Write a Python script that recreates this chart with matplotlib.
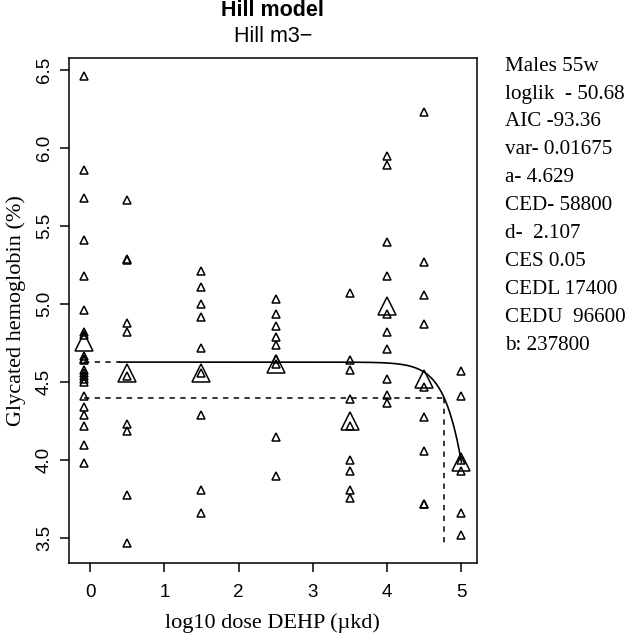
import matplotlib
matplotlib.use("Agg")
import matplotlib.pyplot as plt
import numpy as np

# log10 dose of each dose group (control plotted at -0.08)
doses = [-0.08, 0.5, 1.5, 2.5, 3.5, 4.0, 4.5, 5.0]

obs = [
    [6.46, 5.86, 5.68, 5.41, 5.18, 4.96, 4.82, 4.80, 4.67, 4.65, 4.64,
     4.58, 4.56, 4.54, 4.52, 4.50, 4.41, 4.34, 4.29, 4.22, 4.10, 3.98],
    [5.67, 5.29, 5.28, 4.88, 4.82, 4.54, 4.23, 4.19, 3.78, 3.47],
    [5.21, 5.11, 5.00, 4.92, 4.72, 4.56, 4.29, 3.81, 3.66],
    [5.03, 4.94, 4.86, 4.79, 4.74, 4.65, 4.62, 4.15, 3.90],
    [5.07, 4.64, 4.58, 4.39, 4.22, 4.00, 3.93, 3.81, 3.76],
    [5.95, 5.89, 5.40, 5.18, 4.94, 4.82, 4.71, 4.52, 4.42, 4.37],
    [6.23, 5.27, 5.06, 4.87, 4.47, 4.28, 4.06, 3.72, 3.72],
    [4.57, 4.41, 4.00, 3.93, 3.66, 3.52],
]

# group means (large triangles)
means = [4.76, 4.56, 4.56, 4.62, 4.25, 4.99, 4.52, 3.99]

# fitted Hill m3- parameters
a_par = 4.629
b_par = 237800
d_par = 2.107
ces = 0.05
ced = 58800

info = ["Males 55w", "loglik  - 50.68", "AIC -93.36", "var- 0.01675",
        "a- 4.629", "CED- 58800", "d-  2.107", "CES 0.05",
        "CEDL 17400", "CEDU  96600", "b: 237800"]

W, H = 630, 638
fig = plt.figure(figsize=(W / 100, H / 100), dpi=100)
ax = fig.add_axes([69 / W, 1 - 562.7 / H, (476.7 - 69) / W, (562.7 - 58.3) / H])

sans = "Liberation Sans"
serif = "Liberation Serif"

for x, ys in zip(doses, obs):
    ax.plot([x] * len(ys), ys, linestyle="none", marker="^", ms=5.8,
            mfc="none", mec="black", mew=1.1)
ax.plot(doses, means, linestyle="none", marker="^", ms=13,
        mfc="none", mec="black", mew=1.1)


def hill(logx):
    xx = 10.0 ** logx
    r = (xx / b_par) ** d_par
    return a_par * (1 - r / (1 + r))


xs = np.linspace(0.4, 5.0, 300)
ax.plot(xs, hill(xs), color="black", lw=1.2)
ax.plot([doses[0], 0.4], [a_par, a_par], color="black", lw=1.1,
        linestyle=(0, (3.5, 3.5)))

y_ces = a_par * (1 - ces)
lced = np.log10(ced)
ymin = min(min(o) for o in obs)
ax.plot([doses[0], lced], [y_ces, y_ces], color="black", lw=1.1,
        linestyle=(0, (3.5, 3.5)))
ax.plot([lced, lced], [y_ces, ymin], color="black", lw=1.1,
        linestyle=(0, (3.5, 3.5)))

ax.set_xlim(-0.283, 5.205)
ax.set_ylim(3.344, 6.575)
ax.set_xticks([0, 1, 2, 3, 4, 5])
ax.set_yticks([3.5, 4.0, 4.5, 5.0, 5.5, 6.0, 6.5])
ax.set_yticklabels(["3.5", "4.0", "4.5", "5.0", "5.5", "6.0", "6.5"],
                   rotation=90, va="center")
ax.tick_params(direction="out", length=6.5, width=1.1, labelsize=13.5)
ax.tick_params(axis="x", pad=9)
ax.tick_params(axis="y", pad=5)
for lab in ax.get_xticklabels() + ax.get_yticklabels():
    lab.set_family(sans)
for sp in ax.spines.values():
    sp.set_linewidth(1.1)

ax.set_xlabel("log10 dose DEHP (\u00b5kd)", family=serif, fontsize=16, labelpad=9)
ax.set_ylabel("Glycated hemoglobin (%)", family=serif, fontsize=16, labelpad=7)

cx = (69 + 476.7) / 2 / W
fig.text(cx, 1 - 10 / H, "Hill model", family=sans, fontsize=15.5,
         fontweight="bold", ha="center", va="center")
fig.text(cx, 1 - 37 / H, "Hill m3\u2212", family=sans, fontsize=15.5,
         ha="center", va="center")

for i, line in enumerate(info):
    fig.text(505 / W, 1 - (70.7 + 27.9 * i) / H, line, family=serif,
             fontsize=15.2, ha="left", va="baseline")

fig.savefig("out.png", dpi=100)
